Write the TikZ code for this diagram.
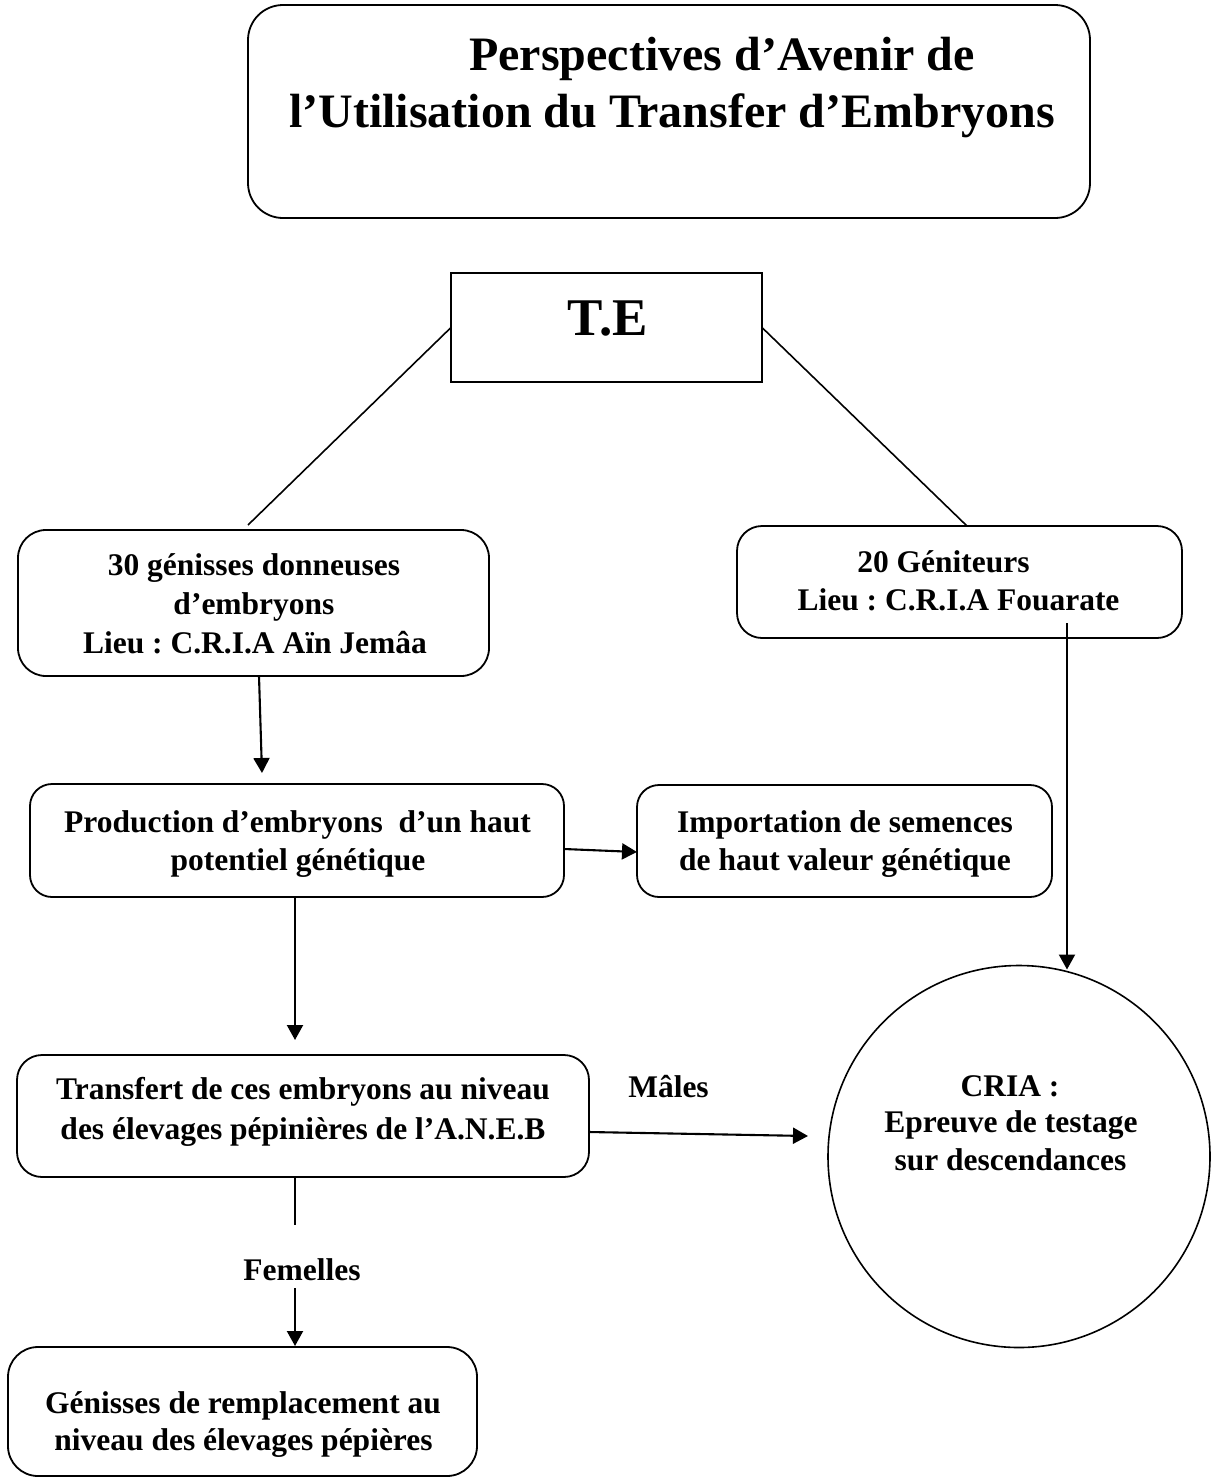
\documentclass[tikz,border=0pt]{standalone}
\usepackage{fontspec}
\setmainfont{Liberation Serif}
\usetikzlibrary{arrows.meta,calc}
\frenchspacing
\begin{document}
\begin{tikzpicture}[x=1pt,y=-1pt,
  box/.style={draw, line width=1.8pt, rounded corners=#1, inner sep=0pt, outer sep=0pt},
  sbox/.style={draw, line width=1.8pt, inner sep=0pt, outer sep=0pt},
  circbox/.style={draw, circle, line width=1.6pt, inner sep=0pt, outer sep=0pt},
  body/.style={font=\fontsize{31.5pt}{38pt}\selectfont\bfseries, inner sep=0pt, outer sep=0pt, anchor=base},
  big/.style={font=\fontsize{48pt}{56pt}\selectfont\bfseries, inner sep=0pt, outer sep=0pt, anchor=base},
  huge/.style={font=\fontsize{53pt}{60pt}\selectfont\bfseries, inner sep=0pt, outer sep=0pt, anchor=base},
  arr/.style={line width=2.1pt, -{Triangle[length=15pt,width=16pt]}},
  plain/.style={line width=1.6pt}
]
\useasboundingbox[fill=white] (0,0) rectangle (1212,1481);

% boxes
\node[box=35pt, minimum width=842pt, minimum height=213pt] (title) at (669,111.5) {};
\node[sbox, minimum width=311pt, minimum height=109pt] (te) at (606.5,327.5) {};
\node[box=28pt, minimum width=471pt, minimum height=146pt] (g30) at (253.5,603) {};
\node[box=25pt, minimum width=445pt, minimum height=112pt] (gen) at (959.5,582) {};
\node[box=22pt, minimum width=534pt, minimum height=113pt] (prod) at (297,840.5) {};
\node[box=22pt, minimum width=415pt, minimum height=112pt] (imp) at (844.5,841) {};
\node[box=25pt, minimum width=572pt, minimum height=122pt] (trans) at (303,1116) {};
\node[box=30pt, minimum width=469pt, minimum height=129pt] (gr) at (242.5,1411.5) {};
\node[circbox, minimum size=382pt] (circ) at (1019,1156.5) {};

% texts
\node[big] (title1) at (722,70) {Perspectives d’Avenir de};
\node[big] (title2) at (672,127) {l’Utilisation du Transfer d’Embryons};
\node[huge] (tetxt) at (608,335) {T.E};
\node[body] (g30a) at (254,575) {30 génisses donneuses};
\node[body] (g30b) at (254,614) {d’embryons};
\node[body] (g30c) at (255,653) {Lieu : C.R.I.A Aïn Jemâa};
\node[body] (gena) at (943.5,572) {20 Géniteurs};
\node[body] (genb) at (958.5,610) {Lieu : C.R.I.A Fouarate};
\node[body] (proda) at (297.5,832) {Production d’embryons\ \ d’un haut};
\node[body] (prodb) at (298,870) {potentiel génétique};
\node[body] (impa) at (845,832) {Importation de semences};
\node[body] (impb) at (845,870) {de haut valeur génétique};
\node[body] (transa) at (303,1099) {Transfert de ces embryons au niveau};
\node[body] (transb) at (303,1139) {des élevages pépinières de l’A.N.E.B};
\node[body] (males) at (668.5,1097) {Mâles};
\node[body] (cira) at (1010,1096) {CRIA :};
\node[body] (cirb) at (1011,1132) {Epreuve de testage};
\node[body] (circc) at (1010.5,1170) {sur descendances};
\node[body] (fem) at (302,1280) {Femelles};
\node[body] (gra) at (243,1413) {Génisses de remplacement au};
\node[body] (grb) at (243.5,1450) {niveau des élevages pépières};

% connectors
\draw[plain] (te.west) -- ($(g30.north)+(-5.5,-5)$);
\draw[plain] (te.east) -- ($(gen.north)+(7.5,0)$);
\draw[arr] ($(g30.south)+(5.5,0)$) -- ($(prod.north)+(-35,-11)$);
\draw[arr] ($(prod.east)+(0,8.5)$) -- ($(imp.west)+(0,11)$);
\draw[arr] ($(gen.south)+(107.5,-15)$) -- ($(circ.north)+(48,4)$);
\draw[arr] ($(prod.south)+(-2,0)$) -- ($(trans.north)+(-8,-15)$);
\draw[arr] ($(trans.east)+(0,16)$) -- ($(circ.west)+(-20,-20.5)$);
\draw[plain] ($(trans.south)+(-8,0)$) -- ($(fem.north)+(-7,-33)$);
\draw[arr] ($(fem.south)+(-7,8)$) -- ($(gr.north)+(52.5,-1)$);
\end{tikzpicture}
\end{document}
